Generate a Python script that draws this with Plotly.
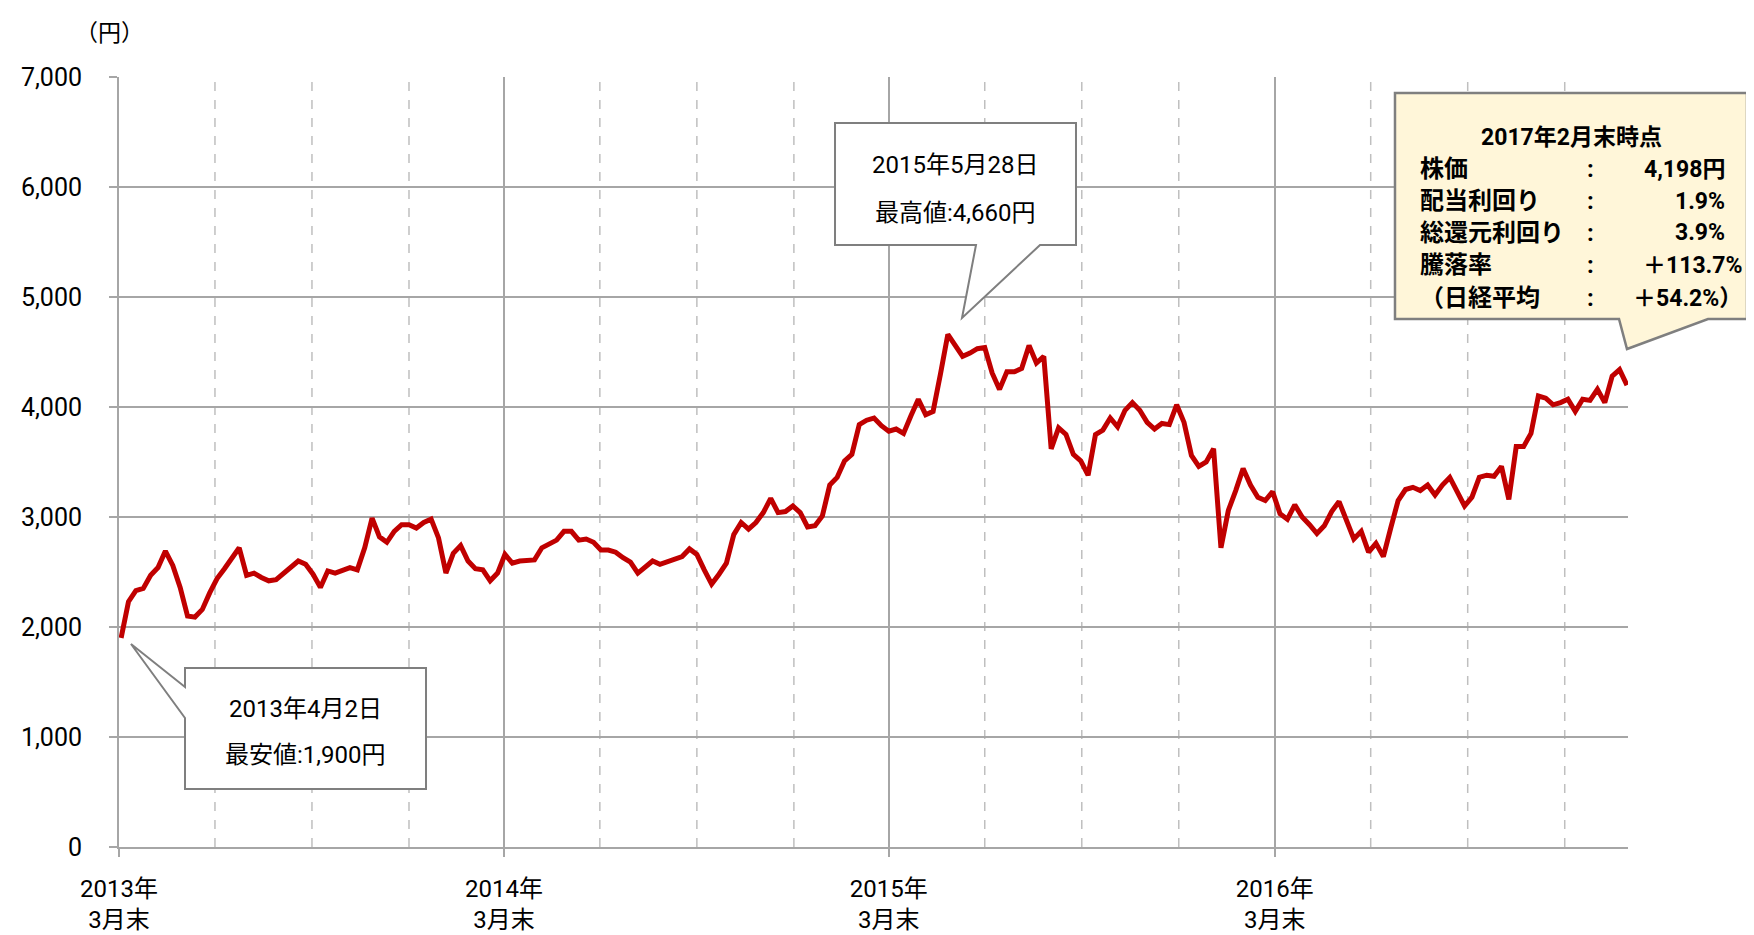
import pandas as pd
import plotly.graph_objects as go

# ---------------- data (weekly closes, yen) ----------------
start_date = "2013-04-02"
price = [
    1900, 2230, 2330, 2350, 2470, 2540, 2690, 2560, 2360, 2100,
    2090, 2160, 2310, 2440, 2530, 2630, 2720, 2470, 2490, 2450,
    2420, 2430, 2490, 2550, 2600, 2570, 2480, 2360, 2510, 2490,
    2520, 2540, 2520, 2720, 2990, 2820, 2770, 2870, 2930, 2930,
    2900, 2950, 2980, 2810, 2490, 2670, 2740, 2600, 2530, 2520,
    2420, 2490, 2660, 2580, 2600, 2600, 2610, 2720, 2760, 2790,
    2870, 2870, 2790, 2800, 2770, 2700, 2700, 2680, 2630, 2590,
    2490, 2540, 2600, 2570, 2590, 2620, 2640, 2710, 2660, 2520,
    2390, 2480, 2580, 2840, 2950, 2890, 2950, 3040, 3170, 3040,
    3050, 3100, 3040, 2910, 2920, 3010, 3290, 3360, 3510, 3570,
    3840, 3880, 3900, 3830, 3780, 3800, 3760, 3920, 4070, 3930,
    3960, 4300, 4660, 4560, 4460, 4490, 4530, 4540, 4310, 4160,
    4320, 4320, 4350, 4560, 4400, 4460, 3620, 3810, 3750, 3570,
    3510, 3380, 3750, 3790, 3900, 3820, 3970, 4040, 3970, 3860,
    3800, 3850, 3840, 4020, 3860, 3560, 3460, 3500, 3620, 2720,
    3060, 3240, 3440, 3290, 3180, 3150, 3230, 3030, 2980, 3110,
    3000, 2930, 2850, 2920, 3050, 3140, 2970, 2800, 2870, 2680,
    2760, 2640, 2900, 3150, 3250, 3270, 3240, 3290, 3200, 3290,
    3360, 3220, 3100, 3180, 3360, 3380, 3370, 3460, 3160, 3640,
    3640, 3760, 4100, 4080, 4020, 4040, 4070, 3960, 4070, 4060,
    4160, 4040, 4280, 4340, 4198,
]
dates = pd.date_range(start_date, periods=len(price), freq="7D")

year_ticks = ["2013-03-31", "2014-03-31", "2015-03-31", "2016-03-31"]
year_labels = ["2013年<br>3月末", "2014年<br>3月末", "2015年<br>3月末", "2016年<br>3月末"]
quarter_lines = ["2013-06-30", "2013-09-30", "2013-12-31",
                 "2014-06-30", "2014-09-30", "2014-12-31",
                 "2015-06-30", "2015-09-30", "2015-12-31",
                 "2016-06-30", "2016-09-30", "2016-12-31"]
y_ticks = [0, 1000, 2000, 3000, 4000, 5000, 6000, 7000]

low_title, low_text = "2013年4月2日", "最安値:1,900円"
high_title, high_text = "2015年5月28日", "最高値:4,660円"
info_title = "2017年2月末時点"
info_labels = ["株価", "配当利回り", "総還元利回り", "騰落率", "（日経平均"]
info_values = ["4,198円", "1.9%", "3.9%", "＋113.7%", "＋54.2%）"]

# ---------------- layout helpers ----------------
W, H = 1754, 935
L, R, T, B = 111, 1620, 69, 839
FONT = "Roboto, Noto Sans CJK JP"
CJK = "Noto Sans CJK JP"
GRID = "#A6A6A6"


def px(x):
    return (x - L) / (R - L)


def py(y):
    return (B - y) / (B - T)


def path(points):
    return "M " + " L ".join(f"{px(a):.5f},{py(b):.5f}" for a, b in points) + " Z"


fig = go.Figure()
fig.add_trace(go.Scatter(
    x=dates, y=price, mode="lines",
    line=dict(color="#C00000", width=5),
    hoverinfo="x+y", showlegend=False,
))

shapes = []
for d in quarter_lines:
    shapes.append(dict(type="line", xref="x", yref="y", x0=d, x1=d, y0=0, y1=7000,
                       line=dict(color="#BFBFBF", width=1.5, dash="dash"), layer="below"))

# low callout (box with wedge on its left edge)
shapes.append(dict(type="path", xref="paper", yref="paper", layer="above",
                   path=path([(177, 660), (418, 660), (418, 781), (177, 781),
                              (177, 710), (123, 636), (177, 679)]),
                   fillcolor="white", line=dict(color="#7F7F7F", width=2)))
# high callout (wedge on bottom edge)
shapes.append(dict(type="path", xref="paper", yref="paper", layer="above",
                   path=path([(827, 115), (1068, 115), (1068, 237), (1032, 237),
                              (954, 310), (968, 237), (827, 237)]),
                   fillcolor="white", line=dict(color="#7F7F7F", width=2)))
# info box
shapes.append(dict(type="path", xref="paper", yref="paper", layer="above",
                   path=path([(1387, 85), (1739, 85), (1739, 311), (1700, 311),
                              (1619, 341), (1611, 311), (1387, 311)]),
                   fillcolor="#FFF6D9", line=dict(color="#7F7F7F", width=2.5)))

ann = []


def text(x, y, s, size=24, bold=False, anchor="center", family=FONT):
    ann.append(dict(xref="paper", yref="paper", x=px(x), y=py(y),
                    text=f"<b>{s}</b>" if bold else s,
                    showarrow=False, xanchor=anchor, yanchor="middle",
                    font=dict(family=family, size=size, color="black")))


text(297, 701, low_title)
text(297, 747, low_text)
text(947, 157, high_title)
text(947, 205, high_text)
text(1563, 129, info_title, size=23, bold=True)
rows_y = [161, 193, 225, 257, 290]
val_right = [1719, 1719, 1719, 1736, 1736]
for lab, val, yy, xr in zip(info_labels, info_values, rows_y, val_right):
    text(1410, yy, lab, size=24, bold=True, anchor="left")
    text(1582, yy, ":", size=24, bold=True)
    text(xr, yy, val, size=23, bold=True, anchor="right")

# y-axis unit
text(101, 23, "（円）", size=23, family=CJK)

fig.update_layout(
    width=W, height=H,
    margin=dict(l=L, r=W - R, t=T, b=H - B, autoexpand=False),
    paper_bgcolor="white", plot_bgcolor="white",
    font=dict(family=FONT, size=25, color="black"),
    shapes=shapes, annotations=ann,
    xaxis=dict(
        type="date", range=["2013-03-31", "2017-03-01"],
        tickmode="array", tickvals=year_ticks, ticktext=year_labels,
        showgrid=True, gridcolor=GRID, gridwidth=2,
        showline=True, linecolor=GRID, linewidth=2,
        ticks="outside", ticklen=8, tickcolor=GRID, tickwidth=2,
        ticklabelstandoff=11,
        tickfont=dict(family=FONT, size=24, color="black"),
        zeroline=False,
    ),
    yaxis=dict(
        range=[0, 7000], tickmode="array", tickvals=y_ticks,
        tickformat=",d",
        showgrid=True, gridcolor=GRID, gridwidth=2,
        showline=True, linecolor=GRID, linewidth=2,
        ticks="outside", ticklen=8, tickcolor=GRID, tickwidth=2,
        ticklabelstandoff=22,
        tickfont=dict(family=FONT, size=25, color="black"),
        zeroline=False,
    ),
)

fig.write_html("out.html")
